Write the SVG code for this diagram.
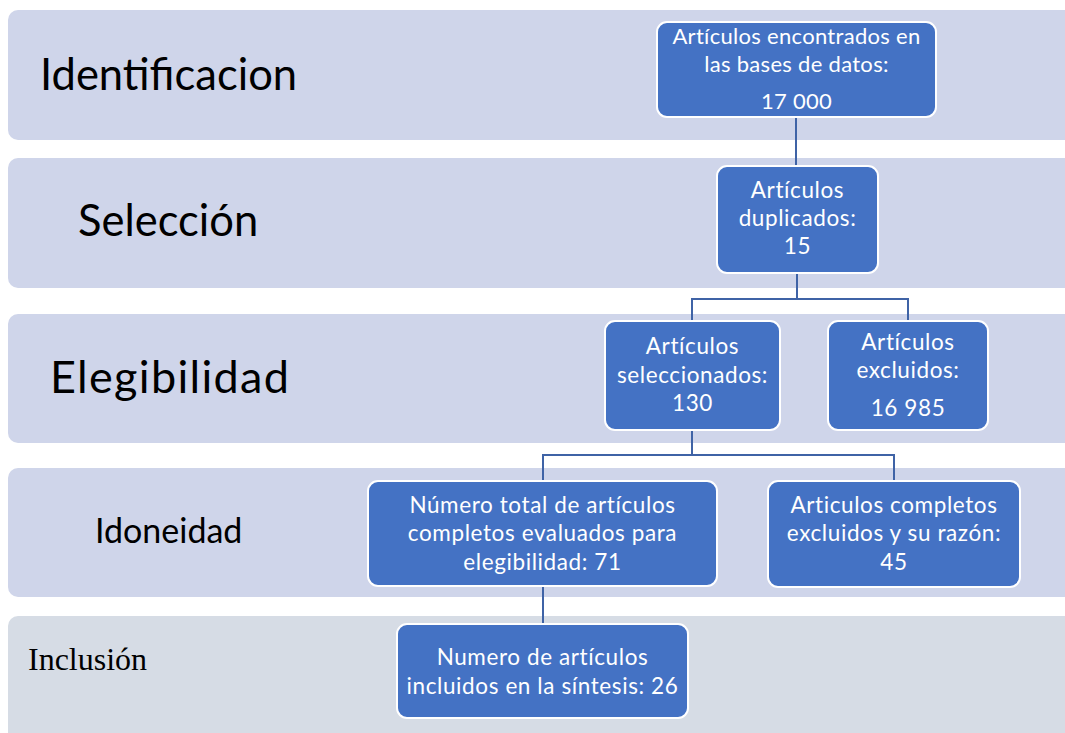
<svg xmlns="http://www.w3.org/2000/svg" width="1065" height="733" viewBox="0 0 1065 733">
<style>
.band{fill:#cfd5ea}
.band5{fill:#d6dce5}
.lbl{font-family:Lato,"Liberation Sans",sans-serif;fill:#000}
.node rect{fill:#4472c4;stroke:#fff;stroke-width:2}
.node text{font-family:Lato,"Liberation Sans",sans-serif;font-size:22.5px;letter-spacing:0.6px;fill:#fff;text-anchor:middle}
.conn{fill:none;stroke:#3f63a6;stroke-width:2}
</style>
<rect width="1065" height="733" fill="#fff"/>
<g id="bands">
<rect class="band" x="8" y="10" width="1100" height="130" rx="10"/>
<rect class="band" x="8" y="158" width="1100" height="130" rx="10"/>
<rect class="band" x="8" y="314" width="1100" height="129" rx="10"/>
<rect class="band" x="8" y="468" width="1100" height="129" rx="10"/>
<rect class="band5" x="8" y="616" width="1100" height="130" rx="10"/>
</g>
<g id="stage-labels">
<text class="lbl" x="40" y="90" font-size="43.5">Identificacion</text>
<text class="lbl" x="78" y="236" font-size="43.5">Selección</text>
<text class="lbl" x="50" y="393" font-size="45" textLength="239">Elegibilidad</text>
<text class="lbl" x="95" y="543" font-size="34">Idoneidad</text>
<text x="28" y="670" font-size="32" font-family="'Liberation Serif',serif" fill="#000">Inclusión</text>
</g>
<g id="connectors">
<path class="conn" d="M796 117V166"/>
<path class="conn" d="M797 273V299H692V321M797 299H908V321"/>
<path class="conn" d="M692 430V455H543V481M692 455H894V481"/>
<path class="conn" d="M543 586V624"/>
</g>
<g id="n1" class="node">
<rect x="657" y="22" width="279" height="95" rx="10"/>
<text x="796.5" y="44" style="font-size:22px;letter-spacing:0.3px">Artículos encontrados en</text>
<text x="796.5" y="72" style="font-size:22px;letter-spacing:0.3px">las bases de datos:</text>
<text x="796.5" y="109" style="font-size:22px;letter-spacing:0.3px">17 000</text>
</g>
<g id="n2" class="node">
<rect x="717" y="166" width="161" height="107" rx="10"/>
<text x="797.5" y="198">Artículos</text>
<text x="797.5" y="226">duplicados:</text>
<text x="797.5" y="254">15</text>
</g>
<g id="n3" class="node">
<rect x="605" y="321" width="175" height="109" rx="10"/>
<text x="692.5" y="354">Artículos</text>
<text x="692.5" y="383">seleccionados:</text>
<text x="692.5" y="411">130</text>
</g>
<g id="n4" class="node">
<rect x="828" y="321" width="160" height="109" rx="10"/>
<text x="908" y="350">Artículos</text>
<text x="908" y="378">excluidos:</text>
<text x="908" y="416">16 985</text>
</g>
<g id="n5" class="node">
<rect x="368" y="481" width="349" height="105" rx="10"/>
<text x="542.5" y="513">Número total de artículos</text>
<text x="542.5" y="541">completos evaluados para</text>
<text x="542.5" y="570">elegibilidad: 71</text>
</g>
<g id="n6" class="node">
<rect x="768" y="481" width="252" height="106" rx="10"/>
<text x="894" y="513">Articulos completos</text>
<text x="894" y="541">excluidos y su razón:</text>
<text x="894" y="570">45</text>
</g>
<g id="n7" class="node">
<rect x="397" y="624" width="291" height="94" rx="10"/>
<text x="542.5" y="665">Numero de artículos</text>
<text x="542.5" y="694">incluidos en la síntesis: 26</text>
</g>
</svg>
